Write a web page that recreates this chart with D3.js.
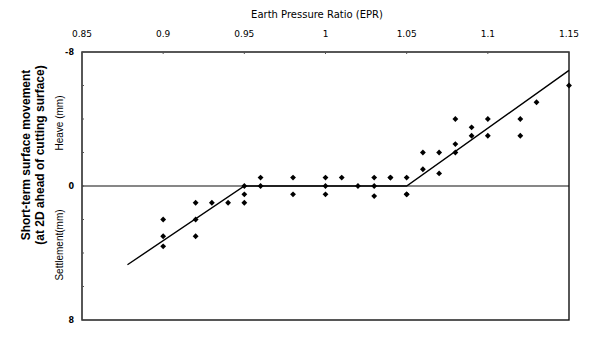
<!DOCTYPE html>
<head>
  <meta charset="utf-8">
  <script src="https://cdnjs.cloudflare.com/ajax/libs/d3/7.8.5/d3.min.js"></script>
  <style>
    body { margin:0; background:#fff; }
    svg { display:block; }
  </style>
</head>
<body>
  <div id="vis"></div>
  <script>
    // measured points: EPR vs movement (mm), + = settlement, - = heave
    var eprValues = [0.90, 0.90, 0.90, 0.92, 0.92, 0.92, 0.93, 0.94, 0.95, 0.95, 0.95,
                     0.96, 0.96, 0.98, 0.98, 1.00, 1.00, 1.00, 1.01, 1.02, 1.03, 1.03, 1.03,
                     1.04, 1.04, 1.05, 1.05, 1.05, 1.06, 1.06, 1.07, 1.07, 1.08, 1.08, 1.08,
                     1.09, 1.09, 1.10, 1.10, 1.12, 1.12, 1.13, 1.15];
    var movement  = [2.0, 3.0, 3.6, 1.0, 2.0, 3.0, 1.0, 1.0, 0, 0.5, 1.0,
                     -0.5, 0, -0.5, 0.5, -0.5, 0, 0.5, -0.5, 0, -0.5, 0, 0.6,
                     -0.5, -0.5, -0.5, 0.5, 0.5, -1.0, -2.0, -2.0, -0.75, -2.0, -2.5, -4.0,
                     -3.0, -3.5, -4.0, -3.0, -4.0, -3.0, -5.0, -6.0];

    // trend line
    var fitX = [0.878, 0.95, 1.05, 1.15];
    var fitY = [4.7, 0, 0, -6.9];

    var xTicks = [0.85, 0.9, 0.95, 1, 1.05, 1.1, 1.15];
    var yTicks = [-8, 0, 8];
    var yMinor = [-8, -6, -4, -2, 0, 2, 4, 6, 8];

    var width = 592, height = 356;
    var svg = d3.select("#vis").append("svg")
      .attr("width", width)
      .attr("height", height);

    var x = d3.scaleLinear().domain([0.85, 1.15]).range([82, 569]);
    var y = d3.scaleLinear().domain([-8, 8]).range([52, 320]);

    // frame
    svg.append("rect")
      .attr("x", x(0.85)).attr("y", y(-8))
      .attr("width", x(1.15) - x(0.85)).attr("height", y(8) - y(-8))
      .attr("fill", "none").attr("stroke", "#111").attr("stroke-width", 1.4);

    // zero line
    svg.append("line")
      .attr("x1", x(0.85)).attr("x2", x(1.15))
      .attr("y1", y(0)).attr("y2", y(0))
      .attr("stroke", "#111").attr("stroke-width", 1.2);

    // small inner ticks
    svg.selectAll(".ytk").data(yMinor).enter().append("line")
      .attr("x1", x(0.85)).attr("x2", x(0.85) + 2)
      .attr("y1", d => y(d)).attr("y2", d => y(d))
      .attr("stroke", "#555");
    svg.selectAll(".xtk").data(xTicks).enter().append("line")
      .attr("x1", d => x(d)).attr("x2", d => x(d))
      .attr("y1", y(-8)).attr("y2", y(-8) + 2)
      .attr("stroke", "#555");

    // tick labels
    svg.selectAll(".xl").data(xTicks).enter().append("text")
      .attr("x", d => x(d)).attr("y", 37)
      .attr("text-anchor", "middle")
      .style("font", "500 9px 'DejaVu Sans'")
      .text(d => d);
    svg.selectAll(".yl").data(yTicks).enter().append("text")
      .attr("x", 74).attr("y", d => y(d) + 3)
      .attr("text-anchor", "end")
      .style("font", "bold 8px 'DejaVu Sans'")
      .text(d => d);

    svg.append("text")
      .attr("x", 317).attr("y", 18)
      .attr("text-anchor", "middle")
      .style("font", "500 10px 'DejaVu Sans'")
      .text("Earth Pressure Ratio (EPR)");

    function vtext(tx, ty, str, font) {
      svg.append("text")
        .attr("transform", "translate(" + tx + "," + ty + ") rotate(-90)")
        .attr("text-anchor", "middle")
        .style("font", font)
        .text(str);
    }
    vtext(30, 155, "Short-term surface movement", "bold 12px 'Liberation Sans'");
    vtext(44, 155, "(at 2D ahead of cutting surface)", "bold 12px 'Liberation Sans'");
    vtext(63, 123, "Heave (mm)", "10px 'Liberation Sans'");
    vtext(63, 245, "Settlement(mm)", "10px 'Liberation Sans'");

    // trend line
    var line = d3.line().x(d => x(d[0])).y(d => y(d[1]));
    svg.append("path")
      .datum(d3.zip(fitX, fitY))
      .attr("d", line)
      .attr("fill", "none").attr("stroke", "#000").attr("stroke-width", 1.4);

    // points
    var sym = d3.symbol().type(d3.symbolSquare).size(17);
    svg.selectAll(".pt").data(d3.zip(eprValues, movement)).enter().append("path")
      .attr("d", sym)
      .attr("transform", d => "translate(" + x(d[0]) + "," + y(d[1]) + ") rotate(45)")
      .attr("fill", "#000");
  </script>
</body>
